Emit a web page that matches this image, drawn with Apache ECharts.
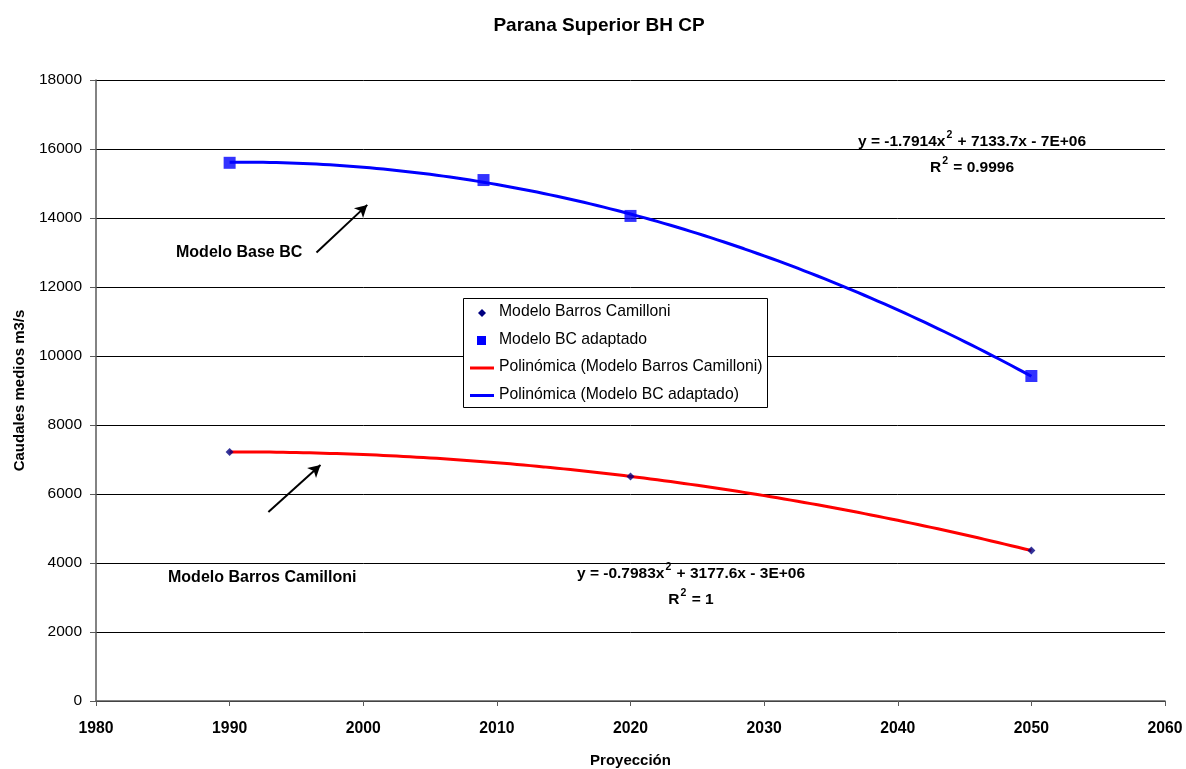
<!DOCTYPE html>
<html>
<head>
<meta charset="utf-8">
<script src="https://cdn.jsdelivr.net/npm/echarts@6/dist/echarts.min.js"></script>
<style>
  html, body { margin: 0; padding: 0; background: #ffffff; }
  #chart { width: 1186px; height: 769px; }
</style>
</head>
<body>
<div id="chart"></div>
<script>
// Projected mean flows (m3/s)
const yearsBC = [1990, 2020, 2050];
const flowsBC = [7220, 6510, 4360];
const yearsAdapt = [1990, 2009, 2020, 2050];
const flowsAdapt = [15600, 15100, 14060, 9420];

const xTicks = { min: 1980, max: 2060, step: 10 };
const yTicks = { min: 0, max: 18000, step: 2000 };

const nameBC = 'Modelo Barros Camilloni';
const nameAdapt = 'Modelo BC adaptado';
const nameTrendBC = 'Polinómica (Modelo Barros Camilloni)';
const nameTrendAdapt = 'Polinómica (Modelo BC adaptado)';

// trendline equations: [before exponent, after exponent], R² value
const eqBC = ['y = -0.7983x', ' + 3177.6x - 3E+06', '1'];
const eqAdapt = ['y = -1.7914x', ' + 7133.7x - 7E+06', '0.9996'];

const FONT = '"Liberation Sans", Arial, sans-serif';

// Least-squares 2nd order polynomial trend, evaluated over the data range
function quadTrend(xs, ys, step) {
  const x0 = 2020;
  const S = [0, 0, 0, 0, 0], T = [0, 0, 0];
  xs.forEach((x, i) => {
    const t = x - x0;
    let p = 1;
    for (let k = 0; k < 5; k++) { S[k] += p; if (k < 3) T[k] += p * ys[i]; p *= t; }
  });
  const A = [[S[0], S[1], S[2], T[0]], [S[1], S[2], S[3], T[1]], [S[2], S[3], S[4], T[2]]];
  for (let c = 0; c < 3; c++) {
    for (let r = c + 1; r < 3; r++) {
      const f = A[r][c] / A[c][c];
      for (let k = c; k < 4; k++) A[r][k] -= f * A[c][k];
    }
  }
  const coef = [0, 0, 0];
  for (let r = 2; r >= 0; r--) {
    let s = A[r][3];
    for (let k = r + 1; k < 3; k++) s -= A[r][k] * coef[k];
    coef[r] = s / A[r][r];
  }
  const out = [];
  const lo = Math.min(...xs), hi = Math.max(...xs);
  for (let x = lo; x <= hi + 1e-9; x += step) {
    const t = x - x0;
    out.push([x, coef[0] + coef[1] * t + coef[2] * t * t]);
  }
  return out;
}

const richEq = {
  m: { fontFamily: FONT, fontSize: 15.5, fontWeight: 'bold', color: '#000', lineHeight: 20, verticalAlign: 'bottom' },
  s: { fontFamily: FONT, fontSize: 10.5, fontWeight: 'bold', color: '#000', lineHeight: 20, verticalAlign: 'top', padding: [0, 1, 0, 1] }
};
function eqText(x, y, parts) {
  return { type: 'text', x: x, y: y, z: 12,
    style: { text: '{m|' + parts[0] + '}{s|2}{m|' + parts[1] + '}', rich: richEq, align: 'center', verticalAlign: 'middle' } };
}
function r2Text(x, y, val) {
  return { type: 'text', x: x, y: y, z: 12,
    style: { text: '{m|R}{s|2}{m| = ' + val + '}', rich: richEq, align: 'center', verticalAlign: 'middle' } };
}

const chart = echarts.init(document.getElementById('chart'), null, { renderer: 'canvas' });

const legendX = 463, legendY = 298, rowH = 27.5;
function legendRow(i, icon, label) {
  const cy = legendY + 15 + i * rowH;
  return [icon(cy), {
    type: 'text', left: legendX + 36, top: cy - 9,
    style: { text: label, font: '15.75px ' + FONT, fill: '#000' }
  }];
}

const option = {
  backgroundColor: '#ffffff',
  animation: false,
  title: {
    text: 'Parana Superior BH CP',
    left: 594, top: 11, textAlign: 'center',
    textStyle: { fontFamily: FONT, fontSize: 19, fontWeight: 'bold', color: '#000' }
  },
  grid: { left: 96, right: 21, top: 80, bottom: 68, containLabel: false, outerBoundsMode: 'none' },
  xAxis: {
    type: 'value', min: xTicks.min, max: xTicks.max, interval: xTicks.step,
    name: 'Proyección', nameLocation: 'middle', nameGap: 52,
    nameTextStyle: { fontFamily: FONT, fontSize: 15, fontWeight: 'bold', color: '#000' },
    axisLine: { lineStyle: { color: '#5a5a5a', width: 1.5 } },
    axisTick: { show: true, inside: false, length: 5, lineStyle: { color: '#5a5a5a' } },
    axisLabel: { margin: 20, fontFamily: FONT, fontSize: 15.75, fontWeight: 'bold', color: '#000',
      formatter: v => String(v) },
    splitLine: { show: false }
  },
  yAxis: {
    type: 'value', min: yTicks.min, max: yTicks.max, interval: yTicks.step,
    name: 'Caudales medios m3/s', nameLocation: 'middle', nameGap: 69,
    nameTextStyle: { fontFamily: FONT, fontSize: 15, fontWeight: 'bold', color: '#000' },
    axisLine: { show: true, lineStyle: { color: '#5a5a5a', width: 1.5 } },
    axisTick: { show: true, inside: false, length: 6, lineStyle: { color: '#5a5a5a' } },
    axisLabel: { margin: 14, fontFamily: FONT, fontSize: 15.5, color: '#000',
      formatter: v => String(v) },
    splitLine: { show: true, lineStyle: { color: '#000', width: 1 } }
  },
  series: [
    {
      name: nameTrendBC, type: 'line', data: quadTrend(yearsBC, flowsBC, 0.5),
      symbol: 'none', lineStyle: { color: '#ff0000', width: 3 }, z: 2,
      markLine: {
        silent: true, symbol: ['none', 'arrow'], symbolSize: [10, 12],
        lineStyle: { color: '#000', width: 2, type: 'solid' }, label: { show: false },
        data: [
          [{ coord: [1996.5, 13000] }, { coord: [2000.3, 14380] }],
          [{ coord: [1992.9, 5480] }, { coord: [1996.8, 6840] }]
        ]
      }
    },
    {
      name: nameTrendAdapt, type: 'line', data: quadTrend(yearsAdapt, flowsAdapt, 0.5),
      symbol: 'none', lineStyle: { color: '#0000ff', width: 3 }, z: 2
    },
    {
      name: nameBC, type: 'scatter', data: yearsBC.map((y, i) => [y, flowsBC[i]]),
      symbol: 'diamond', symbolSize: 8, itemStyle: { color: '#000080' }, z: 3
    },
    {
      name: nameAdapt, type: 'scatter', data: yearsAdapt.map((y, i) => [y, flowsAdapt[i]]),
      symbol: 'rect', symbolSize: 12, itemStyle: { color: '#0000ff' }, z: 3
    }
  ],
  graphic: [
    // legend box
    {
      type: 'rect', left: legendX, top: legendY, z: 10,
      shape: { width: 304, height: 109 },
      style: { fill: '#fff', stroke: '#000', lineWidth: 1 }
    },
    ...[
      legendRow(0, cy => ({ type: 'polygon', shape: { points: [[482, cy - 4], [486, cy], [482, cy + 4], [478, cy]] }, style: { fill: '#000080' } }), nameBC),
      legendRow(1, cy => ({ type: 'rect', shape: { x: 477, y: cy - 4.5, width: 9, height: 9 }, style: { fill: '#0000ff' } }), nameAdapt),
      legendRow(2, cy => ({ type: 'line', shape: { x1: 470, y1: cy, x2: 494, y2: cy }, style: { stroke: '#ff0000', lineWidth: 3 } }), nameTrendBC),
      legendRow(3, cy => ({ type: 'line', shape: { x1: 470, y1: cy, x2: 494, y2: cy }, style: { stroke: '#0000ff', lineWidth: 3 } }), nameTrendAdapt)
    ].flat().map(g => Object.assign({ z: 11 }, g)),
    // trendline equations
    eqText(972, 140, eqAdapt),
    r2Text(972, 166, eqAdapt[2]),
    eqText(691, 572, eqBC),
    r2Text(691, 598, eqBC[2]),
    // series call-outs
    { type: 'text', x: 176, y: 253, style: { text: 'Modelo Base BC', font: 'bold 16px ' + FONT, fill: '#000', align: 'left', verticalAlign: 'middle' } },
    { type: 'text', x: 168, y: 578, style: { text: 'Modelo Barros Camilloni', font: 'bold 16px ' + FONT, fill: '#000', align: 'left', verticalAlign: 'middle' } }
  ]
};

chart.setOption(option);
</script>
</body>
</html>
